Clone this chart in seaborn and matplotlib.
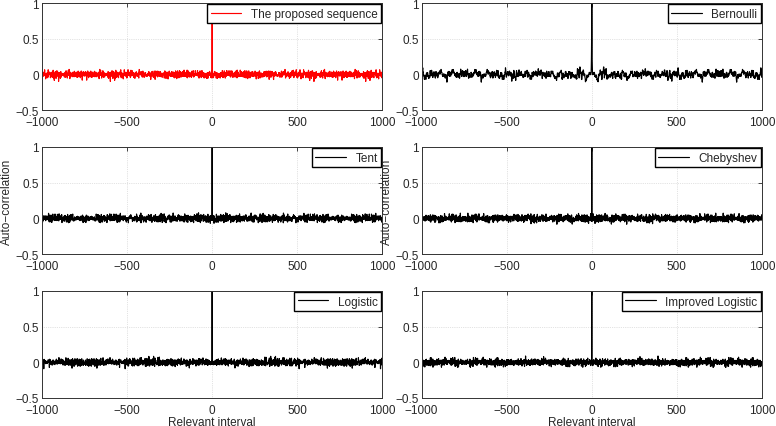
import numpy as np
import pandas as pd
import matplotlib
matplotlib.use("Agg")
import matplotlib.pyplot as plt
import seaborn as sns

# Sequences shown in the six panels
names = [
    "The proposed sequence",
    "Bernoulli",
    "Tent",
    "Chebyshev",
    "Logistic",
    "Improved Logistic",
]
line_colors = ["#ff0000", "black", "black", "black", "black", "black"]

# initial values of the chaotic maps
init_values = [0.3141, 0.2718, 0.4142, 0.7071, 0.1618, 0.5772]

seq_len = 1500
max_lag = 1000

x_ticks = [-1000, -500, 0, 500, 1000]
y_ticks = [-0.5, 0, 0.5, 1]


# CHAOTIC MAPS

def proposed_map(x):
    return (4 * x * (1 - x) + 0.37 * np.sin(np.pi * x)) % 1.0


def bernoulli_map(x):
    lam = 0.49
    return x / lam if x < lam else (x - lam) / (1 - lam)


def tent_map(x):
    mu = 1.9999
    return mu * x if x < 0.5 else mu * (1 - x)


def chebyshev_map(x):
    return np.cos(4 * np.arccos(x))


def logistic_map(x):
    return 4 * x * (1 - x)


def improved_logistic_map(x):
    return 1 - 2 * x * x


maps = [
    proposed_map,
    bernoulli_map,
    tent_map,
    chebyshev_map,
    logistic_map,
    improved_logistic_map,
]


def make_sequence(f, x0, n):
    seq = np.empty(n)
    x = x0
    for _ in range(100):
        x = f(x)
    for i in range(n):
        x = f(x)
        seq[i] = x
    return seq


def autocorr(seq):
    # circular auto-correlation, normalised to 1 at lag 0
    s = seq - seq.mean()
    spec = np.fft.fft(s)
    full = np.fft.ifft(spec * np.conj(spec)).real
    full = full / full[0]
    lags = np.arange(-max_lag, max_lag + 1)
    return lags, full[lags % len(s)]


# PLOT

sns.set_style("white")
plt.rcParams["font.family"] = ["Liberation Sans", "DejaVu Sans"]
plt.rcParams["font.size"] = 8.5

fig, axes = plt.subplots(3, 2, figsize=(7.76, 4.27), dpi=100)
fig.subplots_adjust(left=0.054, right=0.982, top=0.9906, bottom=0.0656,
                    hspace=0.343, wspace=0.115)

for i, ax in enumerate(axes.flat):
    seq = make_sequence(maps[i], init_values[i], seq_len)
    lags, r = autocorr(seq)
    df = pd.DataFrame({"lag": lags, "r": r})

    sns.lineplot(
        data=df,
        x="lag",
        y="r",
        ax=ax,
        color=line_colors[i],
        linewidth=0.85,
        label=names[i],
    )

    ax.set_xlim(-1000, 1000)
    ax.set_ylim(-0.5, 1)
    ax.set_xticks(x_ticks)
    ax.set_yticks(y_ticks)
    ax.set_yticklabels(["\u22120.5", "0", "0.5", "1"])
    ax.grid(True, linestyle=":", color="#c8c8c8", linewidth=0.5)
    ax.tick_params(direction="in", top=True, right=True, length=3,
                   width=0.6, labelsize=8.5)
    ax.tick_params(axis="x", pad=4)
    ax.tick_params(axis="y", pad=2)
    for sp in ax.spines.values():
        sp.set_color("#333333")
        sp.set_linewidth(0.7)

    ax.set_xlabel("")
    ax.set_ylabel("")
    ax.legend(
        loc="upper right",
        frameon=True,
        fancybox=False,
        edgecolor="black",
        framealpha=1,
        borderaxespad=0.1,
        handlelength=2.6,
        fontsize=8.5,
        borderpad=0.3,
    )

axes[1, 0].set_ylabel("Auto\u2212correlation", fontsize=8.5, labelpad=2)
axes[1, 1].set_ylabel("Auto\u2212correlation", fontsize=8.5, labelpad=2)
axes[2, 0].set_xlabel("Relevant interval", fontsize=8.5, labelpad=0)
axes[2, 1].set_xlabel("Relevant interval", fontsize=8.5, labelpad=0)

fig.savefig("out.png", dpi=100)
